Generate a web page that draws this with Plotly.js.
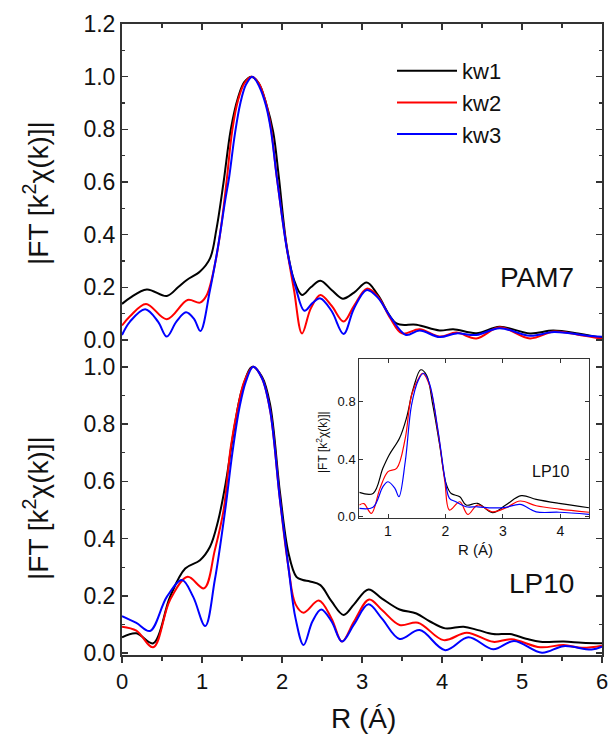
<!DOCTYPE html>
<html>
<head>
<meta charset="utf-8">
<script src="https://cdn.plot.ly/plotly-3.0.1.min.js"></script>
<style>html,body{margin:0;padding:0;background:#fff;}#chart{width:608px;height:738px;}</style>
</head>
<body>
<div id="chart"></div>
<script>
// ---------- PAM7 (top panel) ----------
const pam7_kw1_R = [0, 0.1, 0.31, 0.56, 0.7, 0.81, 0.975, 1.1, 1.18, 1.27, 1.36, 1.45, 1.53, 1.62, 1.71, 1.8, 1.89, 1.96, 2.06, 2.15, 2.25, 2.36, 2.48, 2.62, 2.76, 2.9, 3.06, 3.2, 3.43, 3.68, 3.97, 4.14, 4.43, 4.72, 5.1, 5.39, 5.7, 6.0];
const pam7_kw1_V = [0.137, 0.16, 0.192, 0.167, 0.2, 0.228, 0.26, 0.31, 0.42, 0.6, 0.8, 0.92, 0.98, 1.0, 0.975, 0.9, 0.79, 0.62, 0.354, 0.228, 0.171, 0.2, 0.225, 0.19, 0.157, 0.18, 0.218, 0.17, 0.063, 0.058, 0.036, 0.041, 0.026, 0.05, 0.025, 0.036, 0.025, 0.008];
const pam7_kw2_R = [0, 0.1, 0.3, 0.56, 0.82, 0.975, 1.06, 1.17, 1.25, 1.31, 1.38, 1.45, 1.53, 1.62, 1.71, 1.79, 1.86, 1.93, 2.0, 2.07, 2.15, 2.25, 2.36, 2.48, 2.62, 2.77, 2.9, 3.06, 3.2, 3.35, 3.5, 3.72, 3.97, 4.18, 4.43, 4.72, 5.1, 5.4, 5.7, 6.0];
const pam7_kw2_V = [0.055, 0.09, 0.137, 0.079, 0.152, 0.142, 0.171, 0.30, 0.456, 0.61, 0.80, 0.91, 0.975, 1.0, 0.975, 0.91, 0.81, 0.63, 0.47, 0.33, 0.19, 0.025, 0.12, 0.171, 0.13, 0.07, 0.13, 0.195, 0.165, 0.085, 0.025, 0.041, 0.013, 0.028, 0.006, 0.048, 0.006, 0.032, 0.02, 0.005];
const pam7_kw3_R = [0, 0.1, 0.29, 0.45, 0.56, 0.68, 0.8, 0.9, 0.98, 1.1, 1.2, 1.29, 1.34, 1.41, 1.48, 1.55, 1.63, 1.72, 1.8, 1.86, 1.93, 2.0, 2.07, 2.17, 2.28, 2.38, 2.48, 2.62, 2.77, 2.9, 3.06, 3.2, 3.35, 3.55, 3.72, 3.97, 4.18, 4.43, 4.72, 5.1, 5.4, 5.87, 6.0];
const pam7_kw3_V = [0.019, 0.07, 0.117, 0.07, 0.013, 0.07, 0.105, 0.08, 0.034, 0.19, 0.354, 0.53, 0.62, 0.78, 0.9, 0.97, 1.0, 0.96, 0.89, 0.80, 0.63, 0.47, 0.33, 0.2, 0.111, 0.14, 0.158, 0.11, 0.023, 0.12, 0.19, 0.16, 0.09, 0.019, 0.036, 0.011, 0.025, 0.019, 0.045, 0.016, 0.03, 0.015, 0.012];

// ---------- LP10 (bottom panel) ----------
const lp10_kw1_R = [0, 0.18, 0.39, 0.6, 0.79, 0.975, 1.1, 1.2, 1.3, 1.4, 1.5, 1.63, 1.75, 1.85, 1.975, 2.08, 2.18, 2.26, 2.35, 2.48, 2.62, 2.77, 2.9, 3.08, 3.25, 3.47, 3.68, 3.85, 4.04, 4.27, 4.45, 4.64, 4.85, 5.05, 5.23, 5.52, 5.75, 6.0];
const lp10_kw1_V = [0.055, 0.069, 0.034, 0.196, 0.295, 0.324, 0.371, 0.46, 0.6, 0.78, 0.92, 1.0, 0.965, 0.87, 0.56, 0.35, 0.266, 0.255, 0.25, 0.237, 0.18, 0.133, 0.17, 0.222, 0.19, 0.152, 0.138, 0.11, 0.086, 0.092, 0.08, 0.066, 0.066, 0.05, 0.039, 0.04, 0.036, 0.034];
const lp10_kw2_R = [0, 0.18, 0.39, 0.6, 0.82, 1.025, 1.16, 1.27, 1.36, 1.45, 1.53, 1.64, 1.75, 1.85, 1.975, 2.08, 2.17, 2.27, 2.46, 2.62, 2.75, 2.9, 3.09, 3.25, 3.47, 3.7, 4.02, 4.31, 4.64, 4.87, 5.23, 5.52, 5.75, 6.0];
const lp10_kw2_V = [0.092, 0.078, 0.02, 0.185, 0.266, 0.226, 0.359, 0.499, 0.72, 0.86, 0.95, 1.0, 0.96, 0.85, 0.534, 0.3, 0.17, 0.141, 0.183, 0.12, 0.04, 0.11, 0.187, 0.15, 0.098, 0.106, 0.045, 0.071, 0.039, 0.048, 0.02, 0.028, 0.018, 0.025];
const lp10_kw3_R = [0, 0.18, 0.35, 0.56, 0.75, 0.89, 1.04, 1.16, 1.29, 1.38, 1.47, 1.55, 1.64, 1.75, 1.85, 1.975, 2.08, 2.17, 2.27, 2.38, 2.49, 2.62, 2.75, 2.9, 3.08, 3.25, 3.47, 3.72, 4.04, 4.33, 4.64, 4.9, 5.25, 5.52, 5.87, 6.0];
const lp10_kw3_V = [0.129, 0.105, 0.077, 0.196, 0.255, 0.196, 0.094, 0.255, 0.5, 0.7, 0.86, 0.95, 1.0, 0.96, 0.85, 0.534, 0.3, 0.12, 0.028, 0.11, 0.152, 0.11, 0.04, 0.1, 0.17, 0.12, 0.049, 0.08, 0.01, 0.055, 0.013, 0.042, 0.001, 0.024, 0.012, 0.022];

// ---------- LP10 inset ----------
const inset_kw1_R = [0.5, 0.74, 0.91, 1.02, 1.2, 1.32, 1.44, 1.57, 1.67, 1.78, 1.9, 2.01, 2.1, 2.25, 2.36, 2.56, 2.82, 3.05, 3.32, 3.58, 3.98, 4.5];
const inset_kw1_V = [0.168, 0.161, 0.335, 0.428, 0.544, 0.683, 0.89, 1.02, 0.984, 0.776, 0.497, 0.231, 0.16, 0.138, 0.08, 0.092, 0.027, 0.08, 0.145, 0.12, 0.092, 0.061];
const inset_kw2_R = [0.5, 0.58, 0.71, 0.86, 1.0, 1.15, 1.3, 1.41, 1.55, 1.6, 1.72, 1.87, 1.99, 2.07, 2.25, 2.39, 2.56, 2.82, 3.05, 3.3, 3.58, 3.98, 4.5];
const inset_kw2_V = [0.08, 0.09, 0.022, 0.196, 0.312, 0.335, 0.544, 0.845, 0.973, 0.996, 0.915, 0.59, 0.242, 0.045, 0.103, 0.015, 0.08, 0.033, 0.06, 0.108, 0.075, 0.052, 0.03];
const inset_kw3_R = [0.5, 0.74, 0.91, 1.0, 1.12, 1.19, 1.3, 1.41, 1.53, 1.62, 1.72, 1.87, 2.0, 2.07, 2.18, 2.36, 2.56, 2.82, 3.05, 3.3, 3.58, 3.98, 4.5];
const inset_kw3_V = [0.057, 0.065, 0.207, 0.242, 0.196, 0.138, 0.381, 0.776, 0.95, 0.996, 0.927, 0.60, 0.242, 0.127, 0.103, 0.068, 0.068, 0.06, 0.064, 0.085, 0.033, 0.03, 0.015];

const seriesNames = ['kw1', 'kw2', 'kw3'];
const seriesColors = ['#000000', '#ff0000', '#0000ff'];
const yTitle = '|FT [k<sup>2</sup>\u03c7(k)]|';

const FONT = 'Liberation Sans, Arial, sans-serif';
const traces = [];
const topSets = [[pam7_kw1_R, pam7_kw1_V], [pam7_kw2_R, pam7_kw2_V], [pam7_kw3_R, pam7_kw3_V]];
const botSets = [[lp10_kw1_R, lp10_kw1_V], [lp10_kw2_R, lp10_kw2_V], [lp10_kw3_R, lp10_kw3_V]];
const insSets = [[inset_kw1_R, inset_kw1_V], [inset_kw2_R, inset_kw2_V], [inset_kw3_R, inset_kw3_V]];
for (let i = 0; i < 3; i++) {
  traces.push({x: topSets[i][0], y: topSets[i][1], xaxis: 'x2', yaxis: 'y2', mode: 'lines', name: seriesNames[i],
    line: {color: seriesColors[i], width: 2, shape: 'spline', smoothing: 1}, showlegend: true});
}
for (let i = 0; i < 3; i++) {
  traces.push({x: botSets[i][0], y: botSets[i][1], xaxis: 'x', yaxis: 'y', mode: 'lines', name: seriesNames[i],
    line: {color: seriesColors[i], width: 2, shape: 'spline', smoothing: 1}, showlegend: false});
}
for (let i = 0; i < 3; i++) {
  traces.push({x: insSets[i][0], y: insSets[i][1], xaxis: 'x3', yaxis: 'y3', mode: 'lines', name: seriesNames[i],
    line: {color: seriesColors[i], width: 1.2, shape: 'spline', smoothing: 1}, showlegend: false});
}

const W = 608, H = 738;
const px = v => v / W;
const py = v => 1 - v / H;
const mainX = [px(122), px(602)];

const yCommon = {
  showline: true, linecolor: '#333', linewidth: 2, mirror: 'ticks',
  ticks: 'inside', ticklen: 6, tickwidth: 1.5, tickcolor: '#333',
  dtick: 0.2, tick0: 0, tickformat: '.1f',
  minor: {ticks: 'inside', ticklen: 3, dtick: 0.1, tickcolor: '#333', tickwidth: 1.2},
  tickfont: {family: FONT, size: 23, color: '#111'},
  showgrid: false, zeroline: false, fixedrange: true
};

const layout = {
  width: W, height: H,
  margin: {l: 0, r: 0, t: 0, b: 0},
  paper_bgcolor: '#fff', plot_bgcolor: '#fff',
  font: {family: FONT, color: '#111'},
  showlegend: true,
  legend: {x: px(392), y: py(50), xanchor: 'left', yanchor: 'top', bgcolor: 'rgba(0,0,0,0)',
    font: {family: FONT, size: 22, color: '#111'}, itemwidth: 60, tracegroupgap: 0},
  xaxis: {
    domain: mainX, range: [0, 6], anchor: 'y', side: 'bottom',
    showline: true, linecolor: '#333', linewidth: 2, mirror: false,
    ticks: 'outside', ticklen: 6, tickwidth: 1.5, tickcolor: '#333', dtick: 1, tick0: 0,
    minor: {ticks: 'outside', ticklen: 4, dtick: 0.5, tickcolor: '#333', tickwidth: 1.2},
    tickfont: {family: FONT, size: 22, color: '#111'}, ticklabeloverflow: 'allow',
    showgrid: false, zeroline: false
  },
  yaxis: Object.assign({}, yCommon, {domain: [py(655), py(343)], range: [-0.007, 1.083], anchor: 'x'}),
  xaxis2: {
    domain: mainX, range: [0, 6], anchor: 'y2', side: 'top',
    showline: true, linecolor: '#333', linewidth: 2, mirror: false,
    ticks: 'inside', ticklen: 6, tickwidth: 1.5, tickcolor: '#333', dtick: 1, tick0: 0,
    minor: {ticks: 'inside', ticklen: 4, dtick: 0.5, tickcolor: '#333', tickwidth: 1.2},
    showticklabels: false, showgrid: false, zeroline: false
  },
  yaxis2: Object.assign({}, yCommon, {domain: [py(343), py(24)], range: [-0.0114, 1.2], anchor: 'x2'}),
  xaxis3: {
    domain: [px(359.3), px(589)], range: [0.5, 4.5], anchor: 'y3',
    showline: true, linecolor: '#333', linewidth: 1, mirror: 'ticks',
    ticks: 'inside', ticklen: 4, tickwidth: 1, tickcolor: '#333', dtick: 1, tick0: 0,
    tickfont: {family: FONT, size: 14, color: '#111'},
    showgrid: false, zeroline: false
  },
  yaxis3: {
    domain: [py(518), py(359)], range: [-0.01, 1.095], anchor: 'x3',
    showline: true, linecolor: '#333', linewidth: 1, mirror: 'ticks',
    ticks: 'inside', ticklen: 4, tickwidth: 1, tickcolor: '#333', dtick: 0.4, tick0: 0, tickformat: '.1f',
    tickfont: {family: FONT, size: 13, color: '#111'},
    showgrid: false, zeroline: false
  },
  annotations: [
    {xref: 'paper', yref: 'paper', x: px(36), y: py(193), text: yTitle, textangle: -90, showarrow: false,
      xanchor: 'center', yanchor: 'middle', font: {family: FONT, size: 28, color: '#111'}},
    {xref: 'paper', yref: 'paper', x: px(36), y: py(508), text: yTitle, textangle: -90, showarrow: false,
      xanchor: 'center', yanchor: 'middle', font: {family: FONT, size: 28, color: '#111'}},
    {xref: 'paper', yref: 'paper', x: px(363), y: py(718), text: 'R (\u00c1)', showarrow: false,
      xanchor: 'center', yanchor: 'middle', font: {family: FONT, size: 28, color: '#111'}},
    {xref: 'paper', yref: 'paper', x: px(537), y: py(278), text: 'PAM7', showarrow: false,
      xanchor: 'center', yanchor: 'middle', font: {family: FONT, size: 28, color: '#111'}},
    {xref: 'paper', yref: 'paper', x: px(541), y: py(583), text: 'LP10', showarrow: false,
      xanchor: 'center', yanchor: 'middle', font: {family: FONT, size: 28, color: '#111'}},
    {xref: 'paper', yref: 'paper', x: px(550), y: py(471), text: 'LP10', showarrow: false,
      xanchor: 'center', yanchor: 'middle', font: {family: FONT, size: 16, color: '#111'}},
    {xref: 'paper', yref: 'paper', x: px(322), y: py(442), text: yTitle, textangle: -90, showarrow: false,
      xanchor: 'center', yanchor: 'middle', font: {family: FONT, size: 12, color: '#111'}},
    {xref: 'paper', yref: 'paper', x: px(475), y: py(549), text: 'R (\u00c1)', showarrow: false,
      xanchor: 'center', yanchor: 'middle', font: {family: FONT, size: 15, color: '#111'}}
  ]
};

Plotly.newPlot('chart', traces, layout, {staticPlot: true, displayModeBar: false});
</script>
</body>
</html>
